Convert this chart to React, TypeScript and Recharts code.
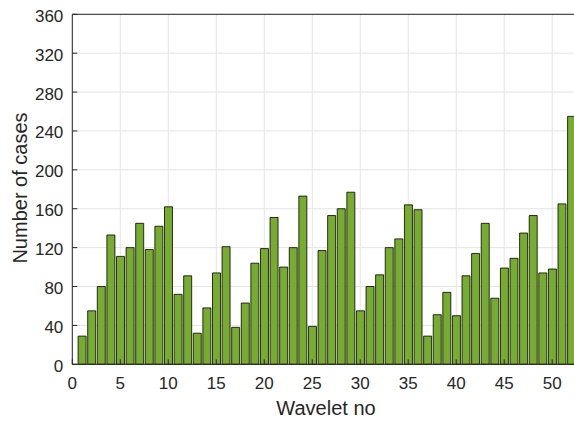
import { Bar, BarChart, CartesianGrid, Label, XAxis, YAxis } from 'recharts';

// cases per wavelet
const WAVELETS = [
  1, 2, 3, 4, 5, 6, 7, 8, 9, 10, 11, 12, 13, 14, 15, 16, 17, 18, 19, 20, 21, 22, 23, 24, 25, 26,
  27, 28, 29, 30, 31, 32, 33, 34, 35, 36, 37, 38, 39, 40, 41, 42, 43, 44, 45, 46, 47, 48, 49, 50,
  51, 52,
];
const CASES = [
  29, 55, 80, 133, 111, 120, 145, 118, 142, 162, 72, 91, 32, 58, 94, 121, 38, 63, 104, 119, 151,
  100, 120, 173, 39, 117, 153, 160, 177, 55, 80, 92, 120, 129, 164, 159, 29, 51, 74, 50, 91, 114,
  145, 68, 99, 109, 135, 153, 94, 98, 165, 255,
];
const X_TICKS = [0, 5, 10, 15, 20, 25, 30, 35, 40, 45, 50];
const Y_TICKS = [0, 40, 80, 120, 160, 200, 240, 280, 320, 360];

const BAR_COLOR = '#77ac30';
const AXIS_COLOR = '#262626';
const GRID_COLOR = '#e4e4e4';
const FONT = '"Liberation Sans", Arial, sans-serif';

const data = WAVELETS.map((w, i) => ({ wavelet: w, cases: CASES[i] }));

export default function App() {
  return (
    <div
      style={{
        position: 'fixed',
        left: 0,
        top: 0,
        width: 574,
        height: 421,
        overflow: 'hidden',
        background: '#fff',
        fontFamily: FONT,
      }}
    >
      <BarChart width={581} height={421} data={data} margin={{ top: 0, right: 0, bottom: 0, left: 0 }}>
        <CartesianGrid stroke={GRID_COLOR} strokeWidth={1} />
        <Bar
          dataKey="cases"
          fill={BAR_COLOR}
          stroke="#000"
          strokeWidth={0.8}
          barSize={8}
          isAnimationActive={false}
        />
        <XAxis
          dataKey="wavelet"
          type="number"
          domain={[0, 53]}
          ticks={X_TICKS}
          interval={0}
          height={56.7}
          tickSize={-5}
          tickMargin={17.4}
          tick={{ fill: AXIS_COLOR, fontSize: 17, fontFamily: FONT }}
          tickLine={{ stroke: AXIS_COLOR }}
          axisLine={{ stroke: AXIS_COLOR }}
        >
          <Label
            content={() => (
              <text x={326} y={415} textAnchor="middle" fill={AXIS_COLOR} fontSize={20} fontFamily={FONT}>
                Wavelet no
              </text>
            )}
          />
        </XAxis>
        <XAxis
          xAxisId="top"
          orientation="top"
          dataKey="wavelet"
          type="number"
          domain={[0, 53]}
          ticks={X_TICKS}
          interval={0}
          height={14.3}
          tickSize={-5}
          tick={false}
          tickLine={{ stroke: AXIS_COLOR }}
          axisLine={{ stroke: AXIS_COLOR }}
        />
        <YAxis
          domain={[0, 360]}
          ticks={Y_TICKS}
          interval={0}
          width={72.3}
          tickSize={-5}
          tickMargin={14}
          tick={{ fill: AXIS_COLOR, fontSize: 17, fontFamily: FONT, dy: 1.4 }}
          tickLine={{ stroke: AXIS_COLOR }}
          axisLine={{ stroke: AXIS_COLOR }}
        >
          <Label
            content={() => (
              <text
                x={27.3}
                y={188}
                transform="rotate(-90, 27.3, 188)"
                textAnchor="middle"
                fill={AXIS_COLOR}
                fontSize={20}
                fontFamily={FONT}
              >
                Number of cases
              </text>
            )}
          />
        </YAxis>
      </BarChart>
    </div>
  );
}
